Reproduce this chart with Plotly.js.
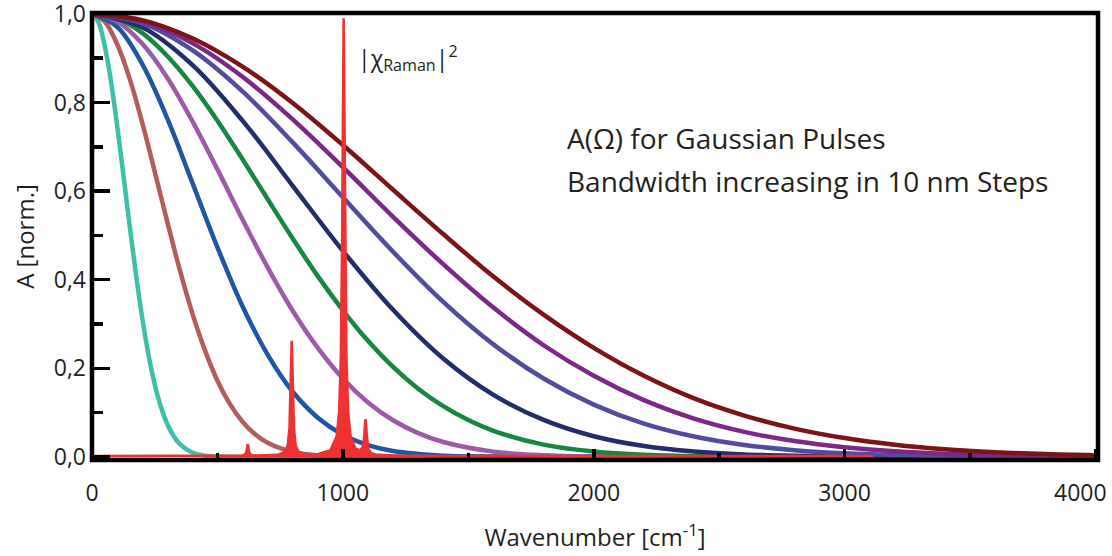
<!DOCTYPE html>
<html>
<head>
<meta charset="utf-8">
<script src="https://cdn.plot.ly/plotly-3.0.1.min.js"></script>
<style>html,body{margin:0;padding:0;background:#fff;}</style>
</head>
<body>
<div id="chart" style="width:1112px;height:556px;"></div>
<script>
// ---- data ----
const xTurquoise = [0,25,50,75,100,125,150,175,200,225,250,275,300,325,350,400,450,500,4000];
const yTurquoise = [1,0.982,0.930,0.850,0.749,0.637,0.522,0.413,0.315,0.231,0.164,0.112,0.0742,0.0472,0.029,0.0098,0.0029,0.0007,0];

const xBrown = [0,50,100,150,200,250,300,350,400,450,500,550,600,650,700,800,900,1000,4000];
const yBrown = [1,0.983,0.932,0.854,0.755,0.644,0.531,0.422,0.324,0.241,0.172,0.119,0.0794,0.0512,0.0318,0.0111,0.0033,0.0009,0];

const xBlue = [0,100,200,300,400,500,600,700,800,900,1000,1100,1200,1400,1600,4000];
const yBlue = [1,0.971,0.887,0.764,0.619,0.473,0.340,0.231,0.147,0.0885,0.0501,0.0267,0.0134,0.0028,0.0005,0];

const xViolet = [0,100,200,300,400,500,600,700,800,900,1000,1100,1200,1300,1400,1600,1800,2000,4000];
const yViolet = [1,0.983,0.933,0.856,0.758,0.649,0.536,0.428,0.330,0.246,0.177,0.123,0.0827,0.0536,0.0336,0.0119,0.0037,0.0010,0];

const xGreen = [0,100,200,300,400,500,600,700,800,900,1000,1100,1200,1300,1400,1500,1600,1800,2000,2200,2500,4000];
const yGreen = [1,0.989,0.957,0.905,0.838,0.759,0.672,0.582,0.493,0.408,0.331,0.262,0.203,0.154,0.1145,0.0831,0.059,0.0278,0.012,0.0047,0.001,0];

const xNavy = [0,200,400,600,800,1000,1200,1400,1600,1800,2000,2200,2400,2600,2800,3000,3400,4000];
const yNavy = [1,0.970,0.885,0.759,0.612,0.465,0.332,0.222,0.140,0.0834,0.0466,0.0245,0.0121,0.0056,0.0025,0.001,0.0001,0];

const xSlate = [0,200,400,600,800,1000,1200,1400,1600,1800,2000,2200,2400,2600,2800,3000,3400,4000];
const ySlate = [1,0.979,0.918,0.825,0.710,0.586,0.463,0.350,0.254,0.177,0.118,0.075,0.0459,0.0269,0.0151,0.0081,0.0021,0.0002];

const xPurple = [0,200,400,600,800,1000,1200,1400,1600,1800,2000,2200,2400,2600,2800,3000,3200,3400,3700,4000];
const yPurple = [1,0.983,0.934,0.858,0.762,0.654,0.542,0.435,0.337,0.252,0.183,0.128,0.0865,0.0565,0.0357,0.0218,0.0129,0.0073,0.003,0.0011];

const xDarkRed = [0,200,400,600,800,1000,1200,1400,1600,1800,2000,2200,2400,2600,2800,3000,3200,3400,3600,3800,4000];
const yDarkRed = [1,0.986,0.945,0.881,0.799,0.704,0.603,0.503,0.407,0.321,0.246,0.183,0.132,0.0933,0.0639,0.0425,0.0275,0.0173,0.0106,0.0063,0.0036];

const xRaman = [0,500,580,600,610,615,618,621,624,627,632,640,660,700,740,770,780,787,791,794,796,798,801,805,812,822,850,900,950,975,985,992,997,1000,1003,1006,1009,1014,1021,1031,1050,1070,1080,1085,1088,1090,1092,1095,1100,1110,1130,1200,1400,3115];
const yRaman = [0.002,0.0022,0.0026,0.0034,0.0058,0.0107,0.0197,0.0294,0.0197,0.0107,0.0057,0.0037,0.0029,0.0032,0.0046,0.012,0.026,0.0646,0.134,0.226,0.262,0.226,0.132,0.064,0.026,0.0124,0.0057,0.006,0.0149,0.046,0.101,0.229,0.497,0.794,0.99,0.794,0.497,0.229,0.101,0.046,0.019,0.0145,0.0236,0.046,0.074,0.085,0.074,0.045,0.021,0.0097,0.0054,0.0031,0.0022,0.002];

const xTickVals = [0,1000,2000,3000,4000];
const xTickText = ['0','1000','2000','3000',''];
const xLastLabel = '4000';
const xMinorVals = [500,1500,2500,3500];
const yTickVals = [0,0.2,0.4,0.6,0.8,1.0];
const yTickText = ['0,0','0,2','0,4','0,6','0,8','1,0'];
const yMinorVals = [0.1,0.3,0.5,0.7,0.9];

const gaussSeries = [
  {x:xTurquoise, y:yTurquoise, color:'#3dbfa9'},
  {x:xBrown, y:yBrown, color:'#b35c5c'},
  {x:xBlue, y:yBlue, color:'#1f56a2'},
  {x:xViolet, y:yViolet, color:'#9d5ba7'},
  {x:xGreen, y:yGreen, color:'#168641'},
  {x:xNavy, y:yNavy, color:'#222e6a'},
  {x:xSlate, y:ySlate, color:'#514c9d'},
  {x:xPurple, y:yPurple, color:'#7b2887'},
  {x:xDarkRed, y:yDarkRed, color:'#7b1416'}
];

const traces = gaussSeries.map(s => ({
  type:'scatter', mode:'lines', x:s.x, y:s.y,
  line:{color:s.color, width:4.5, shape:'spline', smoothing:1},
  hoverinfo:'skip'
}));
traces.push({
  type:'scatter', mode:'lines', x:xRaman, y:yRaman,
  line:{color:'#ee3131', width:2.5},
  fill:'tozeroy', fillcolor:'#ee3131', hoverinfo:'skip'
});

const txt = '#231f20';
const layout = {
  width:1112, height:556,
  margin:{l:92, r:14, t:13, b:96},
  paper_bgcolor:'#ffffff', plot_bgcolor:'#ffffff',
  showlegend:false,
  font:{family:'Open Sans, sans-serif', color:txt},
  xaxis:{
    range:[0,4010], showgrid:false, zeroline:false, showline:false,
    ticks:'inside', ticklen:11, tickwidth:3.5, tickcolor:'#000',
    tickmode:'array', tickvals:xTickVals, ticktext:xTickText,
    tickfont:{size:23, color:txt}, ticklabelstandoff:17, ticklabeloverflow:'allow',
    minor:{ticks:'inside', tickmode:'array', tickvals:xMinorVals, ticklen:7, tickwidth:3.5, tickcolor:'#000', showgrid:false},
    title:{text:'Wavenumber [cm<sup>-1</sup>]', font:{size:24, color:txt}, standoff:22}
  },
  yaxis:{
    range:[-0.007,1.002], showgrid:false, zeroline:false, showline:false,
    ticks:'inside', ticklen:18, tickwidth:3.5, tickcolor:'#000',
    tickmode:'array', tickvals:yTickVals, ticktext:yTickText,
    tickfont:{size:23, color:txt}, ticklabelstandoff:5, ticklabeloverflow:'allow',
    minor:{ticks:'inside', tickmode:'array', tickvals:yMinorVals, ticklen:11, tickwidth:3.5, tickcolor:'#000', showgrid:false},
    title:{text:'A [norm.]', font:{size:24, color:txt}, standoff:12}
  },
  shapes:[{type:'rect', xref:'paper', yref:'paper', x0:0, x1:1, y0:0, y1:1, line:{color:'#000', width:4.5}, layer:'above'}],
  annotations:[
    {x:4000, xref:'x', y:0, yref:'paper', yanchor:'top', xanchor:'center', xshift:-15, yshift:-14, text:xLastLabel, showarrow:false, font:{size:23, color:txt}},
    {x:0.47, xref:'paper', y:0.72, yref:'paper', xanchor:'left', yanchor:'middle', text:'A(Ω) for Gaussian Pulses', showarrow:false, font:{size:28, color:txt}},
    {x:0.47, xref:'paper', y:0.625, yref:'paper', xanchor:'left', yanchor:'middle', text:'Bandwidth increasing in 10 nm Steps', showarrow:false, font:{size:28, color:txt}},
    {x:0.262, xref:'paper', y:0.9, yref:'paper', xanchor:'left', yanchor:'middle', text:'|χ<sub>Raman</sub>|<sup>2</sup>', showarrow:false, font:{size:23, color:txt}}
  ]
};

Plotly.newPlot('chart', traces, layout, {staticPlot:true, displayModeBar:false});
</script>
</body>
</html>
